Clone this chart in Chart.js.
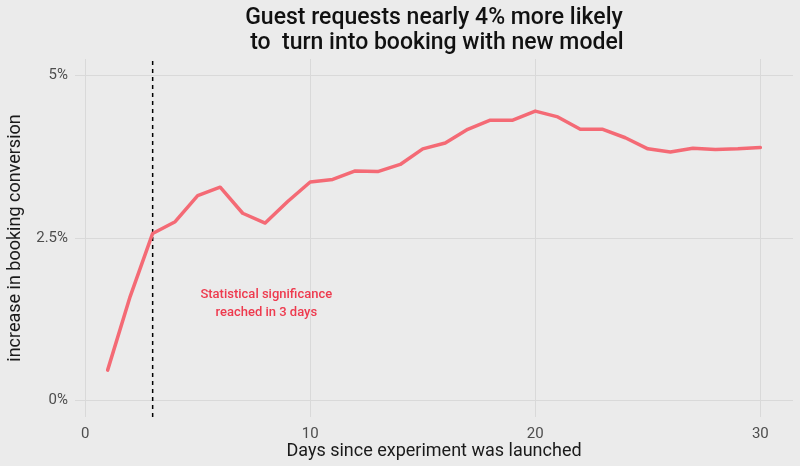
<!DOCTYPE html>
<html>
<head>
<meta charset="utf-8">
<script src="https://cdn.jsdelivr.net/npm/chart.js@4/dist/chart.umd.min.js"></script>
<style>
  html, body { margin: 0; padding: 0; background: #ebebeb; }
  #wrap { width: 800px; height: 466px; }
</style>
</head>
<body>
<div id="wrap"><canvas id="c"></canvas></div>
<script>
// data
var days = [1, 2, 3, 4, 5, 6, 7, 8, 9, 10, 11, 12, 13, 14, 15,
            16, 17, 18, 19, 20, 21, 22, 23, 24, 25, 26, 27, 28, 29, 30];
var lift = [0.47, 1.60, 2.57, 2.75, 3.15, 3.28, 2.88, 2.73, 3.06, 3.36, 3.40, 3.53, 3.52, 3.63, 3.87,
            3.96, 4.17, 4.31, 4.31, 4.45, 4.36, 4.17, 4.17, 4.04, 3.87, 3.82, 3.88, 3.86, 3.87, 3.89];
var xTicks = [0, 10, 20, 30];
var yTicks = [0, 2.5, 5];
var sigDay = 3;
var titleLines = ["Guest requests nearly 4% more likely", " to  turn into booking with new model"];
var noteLines = ["Statistical significance", "reached in 3 days"];
var noteAt = { x: 8.05, y: 1.49 };

var FONT = "Roboto";

// title + annotation text drawn on top
var textPlugin = {
  id: "texts",
  beforeDraw: function(chart) {
    var ctx = chart.ctx;
    ctx.save();
    ctx.fillStyle = "#ebebeb";
    ctx.fillRect(0, 0, chart.width, chart.height);
    ctx.restore();
  },
  afterDraw: function(chart) {
    var ctx = chart.ctx;
    var a = chart.chartArea;
    var cx = (a.left + a.right) / 2;
    ctx.save();
    ctx.textAlign = "center";
    ctx.textBaseline = "middle";
    ctx.fillStyle = "#111";
    ctx.font = "500 23px " + FONT;
    ctx.fillText(titleLines[0], cx, 18);
    ctx.fillText(titleLines[1], cx, 43);

    var xs = chart.scales.x, ys = chart.scales.y;
    var nx = xs.getPixelForValue(noteAt.x), ny = ys.getPixelForValue(noteAt.y);
    ctx.fillStyle = "#ee3a4e";
    ctx.font = "500 13px " + FONT;
    ctx.fillText(noteLines[0], nx, ny - 9);
    ctx.fillText(noteLines[1], nx, ny + 9);
    ctx.restore();
  }
};

var ctx = document.getElementById("c");
new Chart(ctx, {
  type: "line",
  data: {
    datasets: [{
      data: days.map(function(d, i) { return { x: d, y: lift[i] }; }),
      borderColor: "#f46a75",
      borderWidth: 3.5,
      pointRadius: 0,
      tension: 0,
      borderCapStyle: "round",
      borderJoinStyle: "round",
      order: 1
    }, {
      data: [{ x: sigDay, y: -0.25 }, { x: sigDay, y: 5.25 }],
      borderColor: "#000",
      borderWidth: 1.5,
      borderDash: [4, 4],
      pointRadius: 0,
      order: 2
    }]
  },
  options: {
    responsive: true,
    maintainAspectRatio: false,
    animation: false,
    layout: { padding: { top: 59, left: 0, right: 7, bottom: 0 } },
    plugins: {
      legend: { display: false },
      tooltip: { enabled: false },
      title: { display: false }
    },
    scales: {
      x: {
        type: "linear",
        min: -0.45,
        max: 31.45,
        afterBuildTicks: function(s) { s.ticks = xTicks.map(function(v) { return { value: v }; }); },
        afterFit: function(s) { s.height = 49; },
        grid: { color: "#d9d9d9", lineWidth: 1, drawTicks: false },
        border: { display: false },
        ticks: {
          padding: 8,
          color: "#4d4d4d",
          font: { family: FONT, size: 15 },
          maxRotation: 0,
          callback: function(v) { return v; }
        },
        title: {
          display: true,
          text: "Days since experiment was launched",
          color: "#1a1a1a",
          font: { family: FONT, size: 18 },
          padding: { top: 0, bottom: 4 }
        }
      },
      y: {
        type: "linear",
        min: -0.25,
        max: 5.25,
        afterBuildTicks: function(s) { s.ticks = yTicks.map(function(v) { return { value: v }; }); },
        afterFit: function(s) { s.width = 75; },
        grid: { color: "#d9d9d9", lineWidth: 1, drawTicks: false },
        border: { display: false },
        ticks: {
          padding: 7,
          color: "#4d4d4d",
          font: { family: FONT, size: 15 },
          callback: function(v) { return v + "%"; }
        },
        title: {
          display: true,
          text: "increase in booking conversion",
          color: "#1a1a1a",
          font: { family: FONT, size: 18 },
          padding: { top: 5, bottom: 0 }
        }
      }
    }
  },
  plugins: [textPlugin]
});
</script>
</body>
</html>
